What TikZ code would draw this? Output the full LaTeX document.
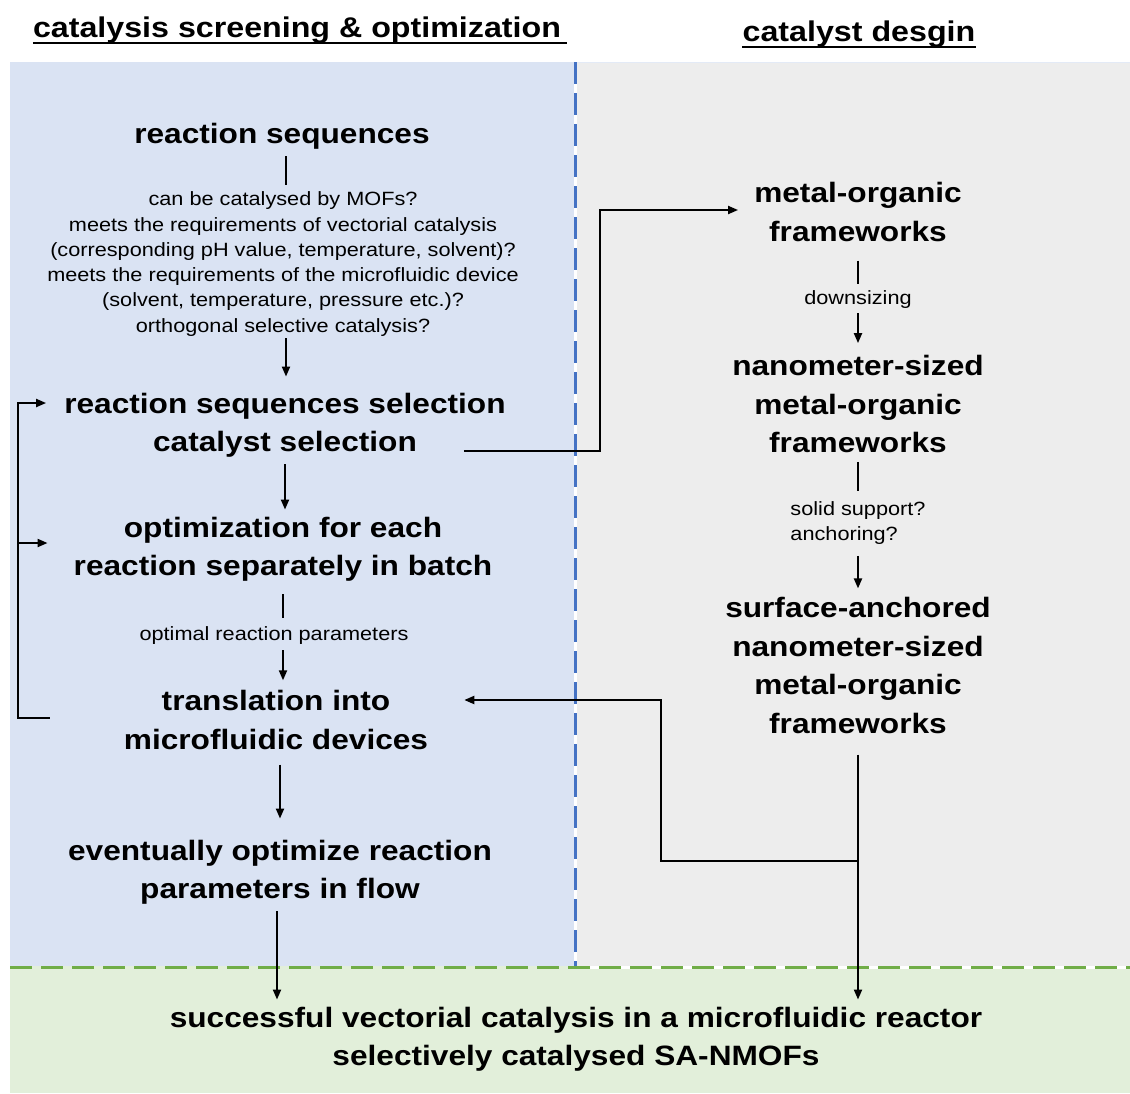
\documentclass[tikz,border=0pt]{standalone}
\usepackage{fontspec}
\setmainfont{Liberation Sans}[FakeStretch=1.13]
\usetikzlibrary{arrows.meta,calc}
\definecolor{panelblue}{HTML}{DAE3F3}
\definecolor{panelgrey}{HTML}{EDEDED}
\definecolor{panelgreen}{HTML}{E2EFDA}
\definecolor{dashblue}{HTML}{4472C4}
\definecolor{dashgreen}{HTML}{70AD47}
\begin{document}
\begin{tikzpicture}[x=1pt,y=-1pt,
  big/.style={font=\fontsize{28}{38.4}\selectfont\bfseries, align=center, inner sep=7pt},
  small/.style={font=\fontsize{19.2}{25.3}\selectfont, align=center, inner sep=7pt},
  head/.style={font=\fontsize{28.5}{34}\selectfont\bfseries, inner sep=0pt},
  link/.style={line width=2pt},
  arr/.style={line width=2pt, -{Triangle[length=10pt,width=8pt]}},
  divider/.style={line width=3pt, dash pattern=on 22pt off 9pt},
]
\useasboundingbox (0,0) rectangle (1130,1093);

% background panels
\fill[white] (0,0) rectangle (1130,1093);
\fill[panelblue] (10,62) rectangle (575,966);
\fill[panelgrey] (575,62) rectangle (1130,966);
\fill[panelgreen] (10,966) rectangle (1130,1093);
\draw[line width=1pt, color=dashblue!15] (575,62.5) -- (1130,62.5);

% dashed dividers with white underlay on the grey side
\draw[line width=3pt, white] (575,62) -- (575,966);
\draw[divider, dashblue] (575,62) -- (575,966);
\draw[line width=3pt, white] (575,967) -- (1130,967);
\draw[divider, dashgreen] (10,967) -- (1130,967);

% headings
\node[head] (h1) at (297,30.5) {catalysis screening \& optimization};
\node[head] (h2) at (859,34.5) {catalyst desgin};
\draw[line width=2.6pt] ([yshift=-5pt]h1.base west) -- ([xshift=6pt,yshift=-5pt]h1.base east);
\draw[line width=2.6pt] ([yshift=-5pt]h2.base west) -- ([yshift=-5pt]h2.base east);

% screening and optimisation column
\node[big] (r1) at (282,136) {reaction sequences};
\node[small] (q1) at (283,264) {can be catalysed by MOFs?\\
  meets the requirements of vectorial catalysis\\
  (corresponding pH value, temperature, solvent)?\\
  meets the requirements of the microfluidic device\\
  (solvent, temperature, pressure etc.)?\\
  orthogonal selective catalysis?};
\node[big] (r2) at (285,425) {reaction sequences selection\\catalyst selection};
\node[big] (r3) at (283,549) {optimization for each\\reaction separately in batch};
\node[small] (lab1) at (274,636) {optimal reaction parameters};
\node[big] (r4) at (276,720) {translation into\\microfluidic devices};
\node[big] (r5) at (280,872) {eventually optimize reaction\\parameters in flow};

% catalyst design column
\node[big] (m1) at (858,212) {metal-organic\\frameworks};
\node[small] (lab2) at (858,300) {downsizing};
\node[big] (m2) at (858,404) {nanometer-sized\\metal-organic\\frameworks};
\node[small, align=left] (lab3) at (858,523) {solid support?\\anchoring?};
\node[big] (m3) at (858,665.5) {surface-anchored\\nanometer-sized\\metal-organic\\frameworks};

% result
\node[big] (fin) at (576,1039) {successful vectorial catalysis in a microfluidic reactor\\selectively catalysed SA-NMOFs};

% helper points for routed connectors
\coordinate (riser) at (600,0);
\coordinate (loopL) at (18,0);
\coordinate (jn) at (858,861);
\coordinate (bend) at (661,861);
\coordinate (fbStart) at ([xshift=-67pt,yshift=2pt]r4.west);
\coordinate (fbTop) at ([xshift=-11pt,yshift=22pt]r2.west);
\coordinate (fbMid) at ([xshift=-19pt,yshift=6pt]r3.west);
\coordinate (selOut) at ([xshift=-49pt,yshift=-26pt]r2.east);
\coordinate (mofIn) at ([xshift=-9pt,yshift=2pt]m1.west);
\coordinate (devIn) at ([xshift=29pt,yshift=20pt]r4.east);

% left column flow
\draw[link] ([xshift=4pt]r1.south) -- ([xshift=4pt]r1.south |- q1.north);
\draw[arr] ([xshift=3pt,yshift=5pt]q1.south) -- ([xshift=1pt,yshift=9pt]r2.north);
\draw[arr] (r2.south) -- (r2.south |- r3.north);
\draw[link] ([yshift=-6pt]r3.south) -- ([yshift=2pt]r3.south |- lab1.north);
\draw[arr] ([yshift=2pt]r3.south |- lab1.south) -- ([yshift=3pt]r3.south |- r4.north);
\draw[arr] ([xshift=4pt,yshift=-8pt]r4.south) -- ([xshift=4pt,yshift=14pt]r4.south |- r5.north);
\draw[arr] ([xshift=-3pt]r5.south) -- ([xshift=-3pt]r5.south |- fin.north);

% feedback loop from the microfluidic step
\draw[arr] (fbStart) -- (fbStart -| loopL) |- (fbTop);
\draw[arr] (loopL |- fbMid) -- (fbMid);

% catalyst selection feeds catalyst design
\draw[arr] (selOut) -- (selOut -| riser) |- (mofIn);

% right column flow
\draw[link] ([yshift=-12pt]m1.south) -- (m1.south |- lab2.north);
\draw[arr] ([yshift=3pt]m1.south |- lab2.south) -- ([yshift=5pt]m1.south |- m2.north);
\draw[link] ([yshift=-2pt]m2.south) -- ([yshift=3pt]m2.south |- lab3.north);
\draw[arr] ([yshift=-4pt]m2.south |- lab3.south) -- ([yshift=2pt]m2.south |- m3.north);
\draw[arr] ([yshift=-14pt]m3.south) -- (m3.south |- fin.north);
\draw[arr] (jn) -- (bend) |- (devIn);
\end{tikzpicture}
\end{document}
